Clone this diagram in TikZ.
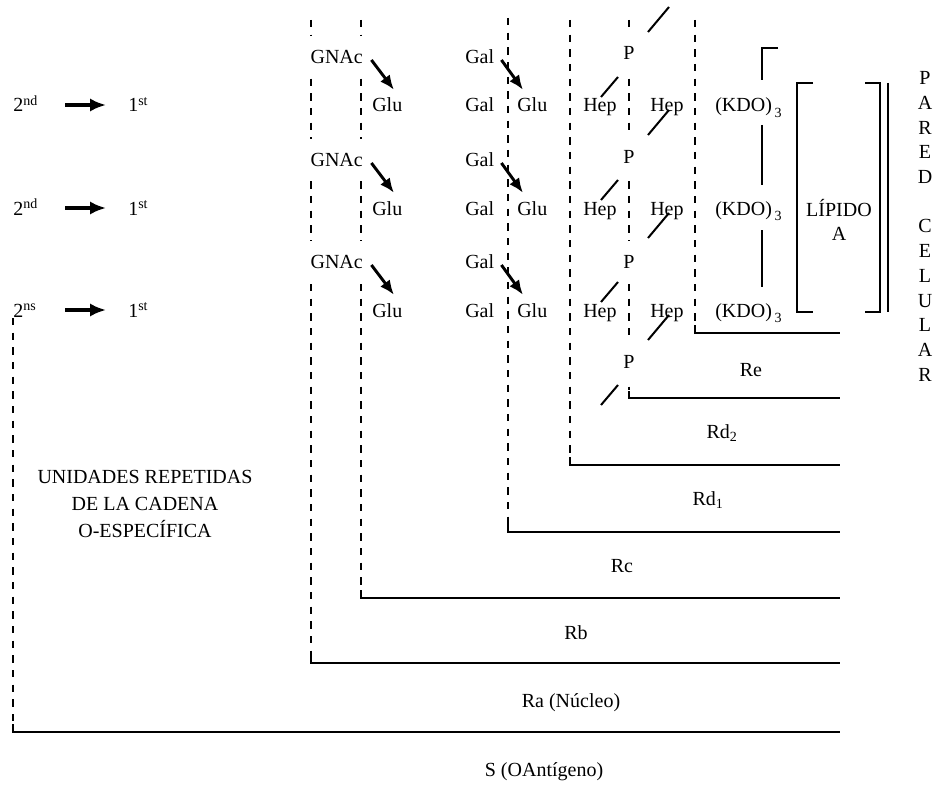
\documentclass[tikz,border=0pt]{standalone}
\usepackage{fontspec}
\setmainfont{Liberation Serif}
\usetikzlibrary{arrows.meta,calc}
\begin{document}
\begin{tikzpicture}[x=0.75pt,y=-0.75pt,
  txt/.style={font=\fontsize{15}{18}\selectfont, inner sep=0pt},
  dline/.style={line width=1.8pt, dash pattern=on 5.5pt off 5.5pt},
  sline/.style={line width=1.6pt},
  bond/.style={line width=1.5pt},
  gapbox/.style={txt, fill=white, minimum height=31.5pt, inner xsep=2.5pt},
  bigarr/.style={line width=2.4pt, -{Latex[length=12pt,width=10pt]}},
  smarr/.style={line width=2.2pt, -{Latex[length=11pt,width=9pt]}}]
\useasboundingbox (0,0) rectangle (937,784);

% dashed verticals
\draw[dline] (311,20) -- (311,655);
\draw[dline] (361,20) -- (361,590);
\draw[dline] (508,18) -- (508,524);
\draw[dline] (570,20) -- (570,457);
\draw[dline] (629,20) -- (629,390);
\draw[dline] (695,20) -- (695,325);
\draw[dline] (13,318) -- (13,724);

% solid horizontals with corner ticks
\draw[sline] (695,325) -- (695,333) -- (840,333);
\draw[sline] (629,391) -- (629,398) -- (840,398);
\draw[sline] (570,457) -- (570,465) -- (840,465);
\draw[sline] (508,524) -- (508,532) -- (840,532);
\draw[sline] (361,590) -- (361,598) -- (840,598);
\draw[sline] (311,655) -- (311,663) -- (840,663);
\draw[sline] (13,724) -- (13,732) -- (840,732);

% rows
\foreach \r/\s/\i in {105/nd/1, 208/nd/2, 310/ns/3}{
  \node[txt, anchor=base west] (tw\i) at (13,\r+7) {2\textsuperscript{\s}};
  \node[txt, anchor=base west] (on\i) at (128,\r+7) {1\textsuperscript{st}};
  \draw[bigarr] ($(tw\i.base west)+(52,-7)$) -- ($(on\i.base west)+(-22,-7)$);
  \node[gapbox, anchor=west] (gn\i) at (307,\r-48) {GNAc};
  \node[txt, anchor=base west] (gl\i) at (372,\r+7) {Glu};
  \draw[smarr] ($(gn\i.east)+(5,3)$) -- ($(gl\i.north west)+(22,-8)$);
  \node[txt, anchor=west] (ga\i) at (465,\r-48) {Gal};
  \node[txt, anchor=base west] (gb\i) at (465,\r+7) {Gal};
  \node[txt, anchor=base west] (gr\i) at (517,\r+7) {Glu};
  \draw[smarr] ($(ga\i.east)+(7,3)$) -- ($(gr\i.north west)+(6,-8)$);
  \node[txt, anchor=base west] (ha\i) at (583,\r+7) {Hep};
  \node[txt, anchor=base west] (hb\i) at (650,\r+7) {Hep};
  \node[txt, anchor=base west] (kd\i) at (715,\r+7) {(KDO)\kern2pt\raisebox{-2pt}{\textsubscript{3}}};
}

% phosphates
\foreach \y [count=\k] in {53,157,262,362}
  \node[gapbox, inner xsep=1pt] (p\k) at (629,\y) {P};

% bonds
\foreach \r in {105,208,310,413}
  \draw[bond] (601,\r-8) -- (618,\r-28);
\foreach \r in {2,105,208,310}
  \draw[bond] (648,\r+30) -- (669,\r+5);

% KDO connection
\draw[sline] (778,48) -- (762,48) -- (762,80);
\draw[sline] (762,125) -- (762,185);
\draw[sline] (762,230) -- (762,287);

% lipid A bracket
\draw[sline] (813,83) -- (797,83) -- (797,312) -- (813,312);
\draw[sline] (865,83) -- (880,83) -- (880,312) -- (865,312);
\draw[sline] (888,83) -- (888,312);
\node[txt, align=center] (lip) at (839,220) {LÍPIDO\\A};

% pared celular
\foreach \c/\y [count=\k] in {P/78,A/103,R/128,E/152,D/177,C/226,E/251,L/276,U/301,L/325,A/350,R/375}
  \node[txt] (pc\k) at (925,\y) {\c};

% region labels
\node[txt] (re) at (751,370) {Re};
\node[txt] (rd2) at (722,433) {Rd\textsubscript{2}};
\node[txt] (rd1) at (708,500) {Rd\textsubscript{1}};
\node[txt] (rc) at (622,566) {Rc};
\node[txt] (rb) at (576,633) {Rb};
\node[txt] (ra) at (571,703) {Ra (Núcleo)};
\node[txt] (s) at (544,772) {S (OAntígeno)};

\node[txt, align=center, font=\fontsize{15}{20.25}\selectfont] (uni) at (145,504)
  {UNIDADES REPETIDAS\\DE LA CADENA\\O-ESPECÍFICA};
\end{tikzpicture}
\end{document}
